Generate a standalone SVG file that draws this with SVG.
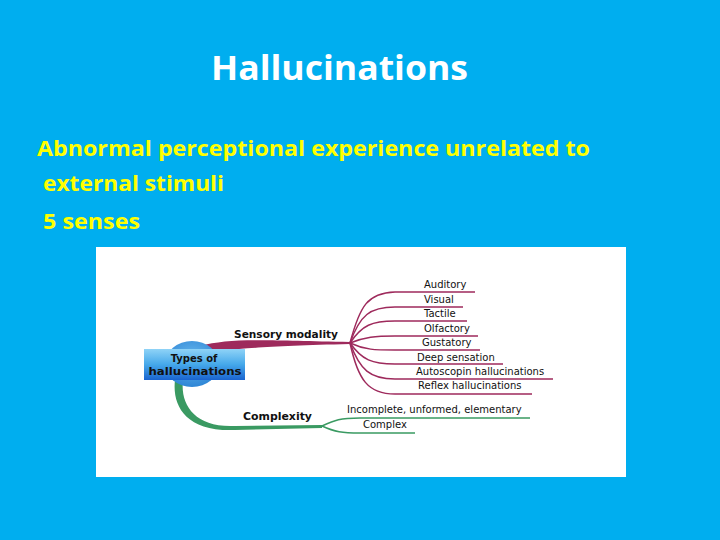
<svg xmlns="http://www.w3.org/2000/svg" width="720" height="540" viewBox="0 0 720 540">
<defs>
<linearGradient id="nodeGrad" x1="0" y1="0" x2="0" y2="1">
<stop offset="0" stop-color="#8fd3f7"/>
<stop offset="0.5" stop-color="#45a8ea"/>
<stop offset="1" stop-color="#1a64cf"/>
</linearGradient>
<radialGradient id="blobGrad" cx="0.5" cy="0.4" r="0.6">
<stop offset="0" stop-color="#6cbcef"/>
<stop offset="1" stop-color="#2f86d6"/>
</radialGradient>
</defs>
<style>
.slide{font-family:"Open Sans","Noto Sans","Liberation Sans",sans-serif;font-weight:bold}
.lbl{font-family:"DejaVu Sans","Liberation Sans",sans-serif;font-size:10px;fill:#111}
.br{font-family:"DejaVu Sans","Liberation Sans",sans-serif;font-size:10px;font-weight:bold;fill:#111}
.mag{fill:none;stroke:#9e2a5c;stroke-width:1.5}
.grn{fill:none;stroke:#3a9a62;stroke-width:1.5}
</style>
<rect x="0" y="0" width="720" height="540" fill="#00aeef"/>
<text class="slide" x="211" y="80" font-size="34" fill="#ffffff" textLength="257" lengthAdjust="spacingAndGlyphs">Hallucinations</text>
<text class="slide" x="37" y="156" font-size="22" fill="#ffff00" textLength="553" lengthAdjust="spacingAndGlyphs">Abnormal perceptional experience unrelated to</text>
<text class="slide" x="43" y="191" font-size="22" fill="#ffff00" textLength="181" lengthAdjust="spacingAndGlyphs">external stimuli</text>
<text class="slide" x="43" y="229" font-size="22" fill="#ffff00" textLength="97" lengthAdjust="spacingAndGlyphs">5 senses</text>
<rect x="96" y="247" width="530" height="230" fill="#ffffff"/>
<g id="connectors">
<path d="M200,346 C230,338 260,340 350,342 L350,344 C260,346 230,350 200,352 Z" fill="#9e2a5c"/>
<path d="M183,380 C180,405 195,428 235,426 L322,425 L322,428 L235,430 C185,432 172,405 175,380 Z" fill="#3a9a62"/>
<path class="mag" d="M350,343 C360,305 368,293 395,292 L475,292"/>
<path class="mag" d="M350,343 C360,315 370,307 395,307 L463,307"/>
<path class="mag" d="M350,343 C362,325 372,321 395,321 L467,321"/>
<path class="mag" d="M350,343 C365,337 375,336 395,336 L478,336"/>
<path class="mag" d="M350,343 C365,350 375,350 395,350 L480,350"/>
<path class="mag" d="M350,343 C362,360 372,364 395,364 L503,364"/>
<path class="mag" d="M350,343 C360,370 370,379 395,379 L553,379"/>
<path class="mag" d="M350,343 C358,380 368,394 395,394 L532,394"/>
<path class="grn" d="M322,426 C335,420 340,418 360,418 L530,418"/>
<path class="grn" d="M322,426 C335,432 342,433 360,433 L415,433"/>
</g>
<g id="central">
<ellipse cx="192" cy="364" rx="27" ry="23" fill="url(#blobGrad)"/>
<rect x="144" y="349" width="101" height="31" fill="url(#nodeGrad)"/>
<text class="br" x="194" y="362" text-anchor="middle" font-size="11">Types of</text>
<text class="br" x="195" y="375" text-anchor="middle" font-size="11" textLength="93" lengthAdjust="spacingAndGlyphs">hallucinations</text>
</g>
<g id="sensory"><text class="br" x="234" y="338" textLength="104" lengthAdjust="spacingAndGlyphs">Sensory modality</text></g>
<g id="complexity"><text class="br" x="243" y="420" textLength="69" lengthAdjust="spacingAndGlyphs">Complexity</text></g>
<g id="auditory"><text class="lbl" x="424" y="288">Auditory</text></g>
<g id="visual"><text class="lbl" x="424" y="303">Visual</text></g>
<g id="tactile"><text class="lbl" x="424" y="317">Tactile</text></g>
<g id="olfactory"><text class="lbl" x="424" y="332">Olfactory</text></g>
<g id="gustatory"><text class="lbl" x="422" y="346">Gustatory</text></g>
<g id="deep"><text class="lbl" x="417" y="361">Deep sensation</text></g>
<g id="autoscopin"><text class="lbl" x="416" y="375">Autoscopin hallucinations</text></g>
<g id="reflex"><text class="lbl" x="418" y="389">Reflex hallucinations</text></g>
<g id="incomplete"><text class="lbl" x="347" y="413">Incomplete, unformed, elementary</text></g>
<g id="complex"><text class="lbl" x="363" y="428">Complex</text></g>
</svg>
